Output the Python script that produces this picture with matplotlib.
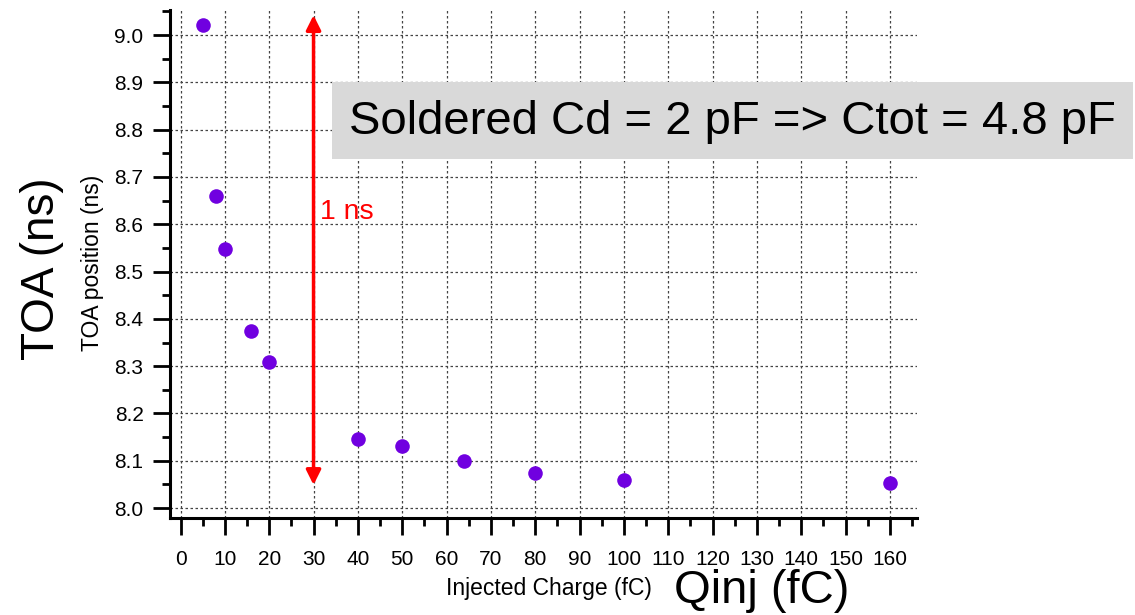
import matplotlib.pyplot as plt
from matplotlib.patches import Rectangle
from matplotlib.ticker import MultipleLocator

plt.rcParams['font.family'] = ['Liberation Sans', 'DejaVu Sans']

# injected charge (fC) and measured TOA position (ns)
charge = [5, 8, 10, 16, 20, 40, 50, 64, 80, 100, 160]
toa = [9.021, 8.660, 8.548, 8.374, 8.309, 8.146, 8.131, 8.099, 8.074, 8.059, 8.053]

# span of the 1 ns marker at Q = 30 fC
arrow_x = 30
arrow_lo, arrow_hi = 8.049, 9.042

W, H = 1135, 615
fig = plt.figure(figsize=(W / 100, H / 100), dpi=100)
ax = fig.add_axes([170 / W, 1 - 518 / H, (917 - 170) / W, (518 - 10) / H])

ax.scatter(charge, toa, s=110, color='#7000e0', zorder=5, linewidths=0)

ax.set_xlim(-2.37, 166.1)
ax.set_ylim(7.979, 9.053)
ax.xaxis.set_major_locator(MultipleLocator(10))
ax.xaxis.set_minor_locator(MultipleLocator(5))
ax.yaxis.set_major_locator(MultipleLocator(0.1))
ax.yaxis.set_minor_locator(MultipleLocator(0.05))
ax.yaxis.set_major_formatter(plt.FormatStrFormatter('%.1f'))

ax.grid(which='major', color='#444444', linestyle=(0, (2, 2)), linewidth=0.9)
for side in ['top', 'right']:
    ax.spines[side].set_visible(False)
for side in ['left', 'bottom']:
    ax.spines[side].set_linewidth(2.2)
ax.tick_params(which='major', direction='out', length=12, width=2, labelsize=15)
ax.tick_params(axis='x', which='major', pad=11)
ax.tick_params(axis='y', which='major', pad=7)
ax.tick_params(which='minor', direction='out', length=6, width=2)

# double-headed arrow marking 1 ns
ax.annotate('', xy=(arrow_x, arrow_hi), xytext=(arrow_x, arrow_lo),
            arrowprops=dict(arrowstyle='<|-|>', color='red', lw=2.5,
                            mutation_scale=22, shrinkA=0, shrinkB=0))
ax.text(arrow_x + 1.4, 8.625, '1 ns', color='red', fontsize=20.5, ha='left', va='center')

# axis titles: small ones from the plot, large ones overlaid
fig.text(549 / W, 1 - 589 / H, 'Injected Charge (fC)', fontsize=16.5, ha='center', va='center')
fig.text(762 / W, 1 - 603 / H, 'Qinj (fC)', fontsize=34, ha='center', va='baseline')
fig.text(92 / W, 1 - 263 / H, 'TOA position (ns)', fontsize=16.5, rotation=90, ha='center', va='center')
fig.text(42 / W, 1 - 269 / H, 'TOA (ns)', fontsize=33, rotation=90, ha='center', va='center')

# annotation box
fig.patches.append(Rectangle((332 / W, 1 - 159 / H), (1133 - 332) / W, (159 - 82) / H,
                             transform=fig.transFigure, facecolor='#d9d9d9',
                             edgecolor='none', zorder=10))
fig.text(732 / W, 1 - 122 / H, 'Soldered Cd = 2 pF => Ctot = 4.8 pF', fontsize=34,
         ha='center', va='center', zorder=11)

fig.savefig('out.png', dpi=100)
